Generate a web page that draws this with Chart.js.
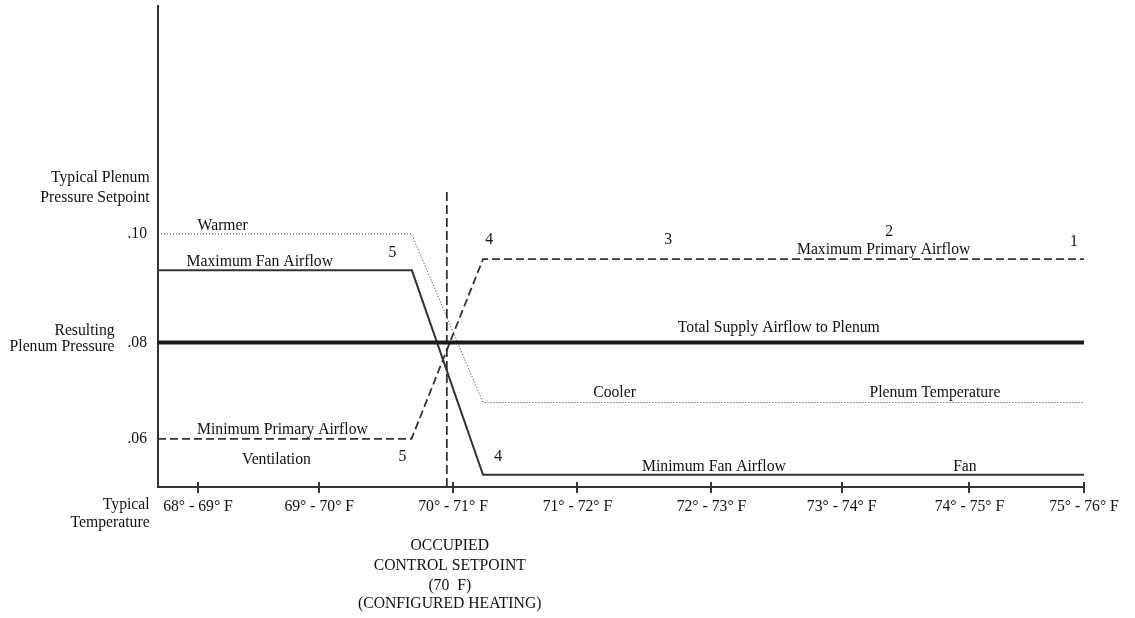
<!DOCTYPE html>
<html>
<head>
<meta charset="utf-8">
<script src="https://cdn.jsdelivr.net/npm/chart.js@4.4.1/dist/chart.umd.min.js"></script>
<style>
  html, body { margin: 0; padding: 0; background: #fff; }
  #wrap { width: 1135px; height: 618px; position: relative; }
</style>
</head>
<body>
<div id="wrap"><canvas id="chart"></canvas></div>
<script>
// tick labels (x = temperature bands, y = plenum pressure)
const xTickLabels = ['68° - 69° F', '69° - 70° F', '70° - 71° F', '71° - 72° F', '72° - 73° F', '73° - 74° F', '74° - 75° F', '75° - 76° F'];
const xTickValues = [0, 0.958, 2.015, 2.998, 4.057, 5.085, 6.095, 7.0];
const yTickLabels = ['.10', '.08', '.06'];
const yTickValues = [0.10, 0.0788, 0.06];

// series
const plenumTempX = [-0.316, 1.687, 2.252, 7.0];
const plenumTempY = [0.10, 0.10, 0.0671, 0.0671];
const fanAirflowX = [-0.316, 1.69, 2.252, 7.0];
const fanAirflowY = [0.0929, 0.0929, 0.0530, 0.0530];
const primaryAirflowX = [-0.316, 1.687, 2.252, 7.0];
const primaryAirflowY = [0.06, 0.06, 0.0951, 0.0951];
const totalSupplyX = [-0.316, 7.0];
const totalSupplyY = [0.0788, 0.0788];
const setpointX = [1.966, 1.966];
const setpointY = [0.0506, 0.1086];

const toPoints = (xs, ys) => xs.map((x, i) => ({ x: x, y: ys[i] }));

// text written on the drawing (placed in data units)
const notes = [
  { text: 'Warmer', x: 0.195, y: 0.1016 },
  { text: 'Maximum Fan Airflow', x: 0.488, y: 0.0945 },
  { text: '5', x: 1.536, y: 0.0964 },
  { text: '4', x: 2.300, y: 0.0988 },
  { text: '3', x: 3.715, y: 0.0988 },
  { text: '2', x: 5.461, y: 0.1004 },
  { text: 'Maximum Primary Airflow', x: 5.417, y: 0.0969 },
  { text: '1', x: 6.921, y: 0.0985 },
  { text: 'Total Supply Airflow to Plenum', x: 4.589, y: 0.0817 },
  { text: 'Cooler', x: 3.291, y: 0.0689 },
  { text: 'Plenum Temperature', x: 5.822, y: 0.0689 },
  { text: 'Minimum Fan Airflow', x: 4.076, y: 0.0546 },
  { text: 'Fan', x: 6.059, y: 0.0546 },
  { text: '4', x: 2.371, y: 0.0564 },
  { text: '5', x: 1.615, y: 0.0564 },
  { text: 'Minimum Primary Airflow', x: 0.667, y: 0.0618 },
  { text: 'Ventilation', x: 0.620, y: 0.0559 },
  { text: 'Typical Plenum', x: -0.382, y: 0.1109, align: 'right' },
  { text: 'Pressure Setpoint', x: -0.382, y: 0.1070, align: 'right' },
  { text: 'Resulting', x: -0.659, y: 0.0811, align: 'right' },
  { text: 'Plenum Pressure', x: -0.659, y: 0.0779, align: 'right' },
  { text: 'Typical', x: -0.382, y: 0.0471, align: 'right' },
  { text: 'Temperature', x: -0.382, y: 0.0436, align: 'right' },
  { text: 'OCCUPIED', x: 1.989, y: 0.0391 },
  { text: 'CONTROL SETPOINT', x: 1.989, y: 0.0352 },
  { text: '(70  F)', x: 1.989, y: 0.0313 },
  { text: '(CONFIGURED HEATING)', x: 1.989, y: 0.0278 }
];

const FONT = 'Liberation Serif, Times New Roman, serif';
const FONT_SIZE = 15.7;

// small tick marks crossing the x axis + free text
const notesPlugin = {
  id: 'notes',
  afterDraw(chart) {
    const ctx = chart.ctx;
    const xs = chart.scales.x;
    const ys = chart.scales.y;
    const axisY = chart.chartArea.bottom;

    ctx.save();
    ctx.strokeStyle = '#333';
    ctx.lineWidth = 2;
    xTickValues.forEach(v => {
      const px = Math.round(xs.getPixelForValue(v));
      ctx.beginPath();
      ctx.moveTo(px, axisY - 5);
      ctx.lineTo(px, axisY + 6);
      ctx.stroke();
    });

    ctx.fillStyle = '#111';
    ctx.font = FONT_SIZE + 'px ' + FONT;
    ctx.textBaseline = 'middle';
    notes.forEach(n => {
      ctx.textAlign = n.align || 'center';
      ctx.fillText(n.text, xs.getPixelForValue(n.x), ys.getPixelForValue(n.y));
    });
    ctx.restore();
  }
};

new Chart(document.getElementById('chart').getContext('2d'), {
  type: 'scatter',
  data: {
    datasets: [
      {
        label: 'Total Supply Airflow to Plenum',
        data: toPoints(totalSupplyX, totalSupplyY),
        borderColor: '#1a1a1a',
        borderWidth: 4
      },
      {
        label: 'Plenum Temperature',
        data: toPoints(plenumTempX, plenumTempY),
        borderColor: '#333',
        borderWidth: 1,
        borderDash: [1, 2]
      },
      {
        label: 'Fan Airflow',
        data: toPoints(fanAirflowX, fanAirflowY),
        borderColor: '#333',
        borderWidth: 2
      },
      {
        label: 'Primary Airflow',
        data: toPoints(primaryAirflowX, primaryAirflowY),
        borderColor: '#333',
        borderWidth: 1.8,
        borderDash: [8, 4]
      },
      {
        label: 'Occupied Control Setpoint',
        data: toPoints(setpointX, setpointY),
        borderColor: '#333',
        borderWidth: 1.8,
        borderDash: [9, 4]
      }
    ]
  },
  options: {
    responsive: true,
    maintainAspectRatio: false,
    animation: false,
    showLine: true,
    elements: {
      point: { radius: 0, hoverRadius: 0 },
      line: { tension: 0, fill: false }
    },
    layout: {
      padding: { top: 6, right: 51, bottom: 0, left: 0 }
    },
    plugins: {
      legend: { display: false },
      tooltip: { enabled: false }
    },
    scales: {
      x: {
        type: 'linear',
        min: -0.316,
        max: 7.0,
        grid: { display: false, drawTicks: false },
        border: { display: true, color: '#333', width: 2 },
        afterBuildTicks: scale => {
          scale.ticks = xTickValues.map(v => ({ value: v }));
        },
        afterFit: scale => {
          scale.height = 131;
          scale.paddingLeft = 0;
          scale.paddingRight = 0;
        },
        ticks: {
          padding: 10,
          maxRotation: 0,
          autoSkip: false,
          color: '#111',
          font: { family: FONT, size: FONT_SIZE },
          callback: (value, i) => xTickLabels[i]
        }
      },
      y: {
        type: 'linear',
        min: 0.0506,
        max: 0.1445,
        grid: { display: false, drawTicks: false },
        border: { display: true, color: '#333', width: 2 },
        afterBuildTicks: scale => {
          scale.ticks = yTickValues.map(v => ({ value: v }));
        },
        afterFit: scale => {
          scale.width = 158;
          scale.paddingTop = 0;
          scale.paddingBottom = 0;
        },
        ticks: {
          padding: 11,
          autoSkip: false,
          color: '#111',
          font: { family: FONT, size: FONT_SIZE },
          callback: (value, i) => yTickLabels[i]
        }
      }
    }
  },
  plugins: [notesPlugin]
});
</script>
</body>
</html>
